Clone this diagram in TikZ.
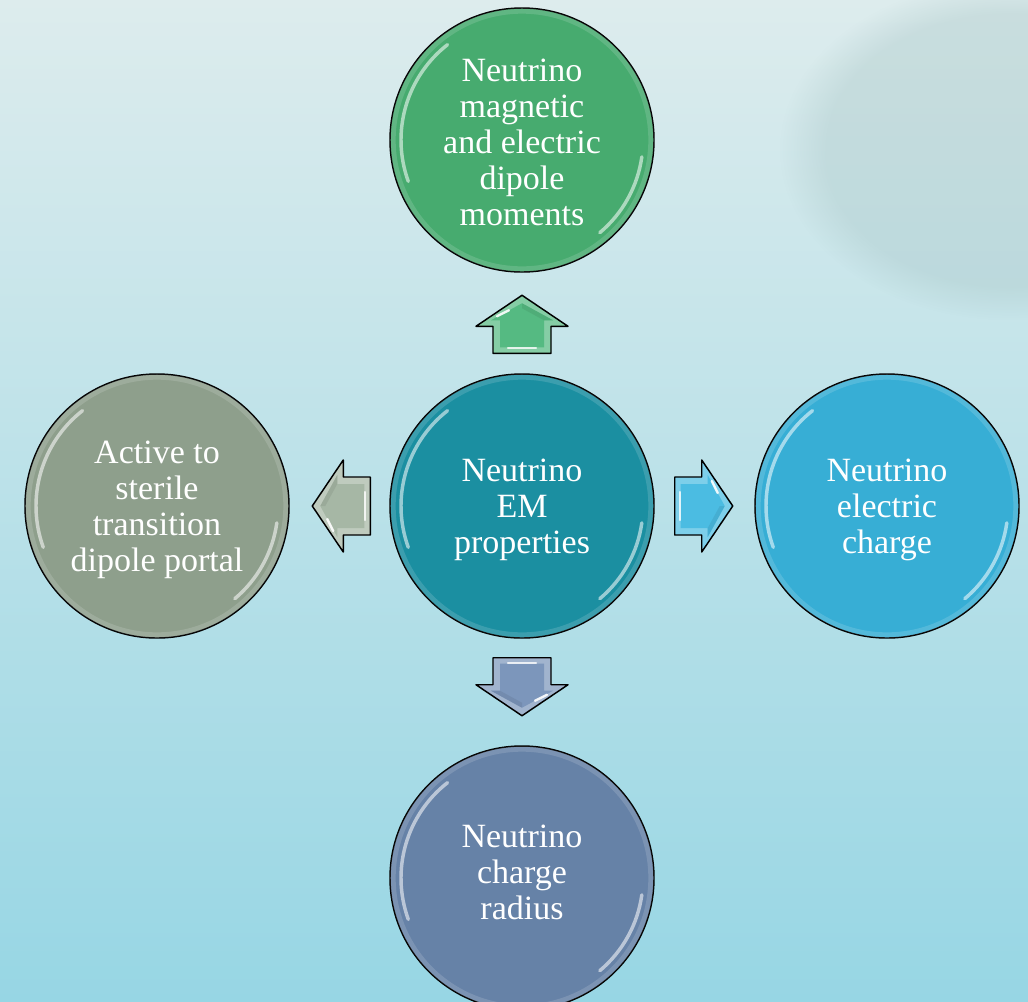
\documentclass[tikz,border=0pt]{standalone}
\usepackage{fontspec}
\setmainfont{Liberation Serif}
\usetikzlibrary{fadings,calc}
\definecolor{bgTop}{HTML}{DDECED}
\definecolor{bgMid}{HTML}{BEE3E8}
\definecolor{bgBot}{HTML}{97D6E4}
\definecolor{blob}{HTML}{9EBDBD}
\definecolor{cTop}{HTML}{47AB6F}
\definecolor{cCtr}{HTML}{1B8FA1}
\definecolor{cRgt}{HTML}{37AED5}
\definecolor{cLft}{HTML}{8E9F8C}
\definecolor{cBot}{HTML}{6682A7}
\definecolor{aTop}{HTML}{55BA82}
\definecolor{aLft}{HTML}{A6B7A5}
\definecolor{aRgt}{HTML}{4BBCE2}
\definecolor{aBot}{HTML}{7C96BB}
\newcommand\blkarrow[3]{%
  \begin{scope}[shift={(#2)}, rotate=#3]
    \fill[#1!72!white, draw=black, line width=1.1pt, line join=round]
      (0,-29) -- (27,-29) -- (27,-46) -- (58,0) -- (27,46) -- (27,29) -- (0,29) -- cycle;
    \fill[#1] (6,-22) -- (33,-22) -- (33,-31) -- (50,0) -- (33,31) -- (33,22) -- (6,22) -- cycle;
    \fill[#1!80!black, opacity=.35] (33,22) -- (33,31) -- (50,0) -- (45,0) -- cycle;
    \draw[white, line width=1.8pt, opacity=.9, line cap=round] (37,-25) -- (43,-13);
    \draw[white, line width=1.6pt, opacity=.8, line cap=round] (5,-14) -- (5,14);
  \end{scope}}
\tikzset{
  bubble/.style={circle, fill=#1, draw=black, line width=1.1pt,
    minimum size=198pt, inner sep=0pt},
  caption/.style={text=white, align=center, font=\fontsize{25.5}{27}\selectfont},
  gloss/.style={white, line width=2.6pt, opacity=.55, line cap=round},
  rim/.style={white, line width=4pt, opacity=.14}
}
\newcommand\shine[1]{%
  \draw[rim] (#1.center) circle[radius=129];
  \draw[gloss] ([shift={(-128:121)}]#1.center) arc[start angle=-128, end angle=-200, radius=121];
  \draw[gloss] ([shift={(50:121)}]#1.center) arc[start angle=50, end angle=8, radius=121];
}
\begin{document}
\begin{tikzpicture}[x=0.75pt,y=-0.75pt]
\useasboundingbox (0,0) rectangle (1028,1001);
\shade[top color=bgTop, middle color=bgMid, bottom color=bgBot] (0,0) rectangle (1028,1001);
\fill[blob, path fading=circle with fuzzy edge 20 percent, fill opacity=.3] (1010,150) ellipse [x radius=230, y radius=170];

\node[bubble=cTop] (top) at (522,140) {};
\node[bubble=cCtr] (ctr) at (522,506) {};
\node[bubble=cLft] (lft) at (157,506) {};
\node[bubble=cRgt] (rgt) at (887,506) {};
\node[bubble=cBot] (bot) at (522,878) {};
\foreach \n in {top,ctr,lft,rgt,bot} {\shine{\n}}

\node[caption] (tTop) at ($(top)+(0,2)$) {Neutrino\\magnetic\\and electric\\dipole\\moments};
\node[caption] (tCtr) at ($(ctr)+(0,4)$) {Neutrino\\EM\\properties};
\node[caption] (tLft) at ($(lft)+(0,4)$) {Active to\\sterile\\transition\\dipole portal};
\node[caption] (tRgt) at ($(rgt)+(0,4)$) {Neutrino\\electric\\charge};
\node[caption] (tBot) at ($(bot)+(0,-6)$) {Neutrino\\charge\\radius};

\coordinate (aU) at ($(ctr.north)+(0,-20)$);
\coordinate (aD) at ($(ctr.south)+(0,19)$);
\coordinate (aL) at ($(ctr.west)+(-19,0)$);
\coordinate (aR) at ($(ctr.east)+(20,0)$);
\blkarrow{aTop}{aU}{90}
\blkarrow{aBot}{aD}{-90}
\blkarrow{aLft}{aL}{180}
\blkarrow{aRgt}{aR}{0}
\end{tikzpicture}
\end{document}
